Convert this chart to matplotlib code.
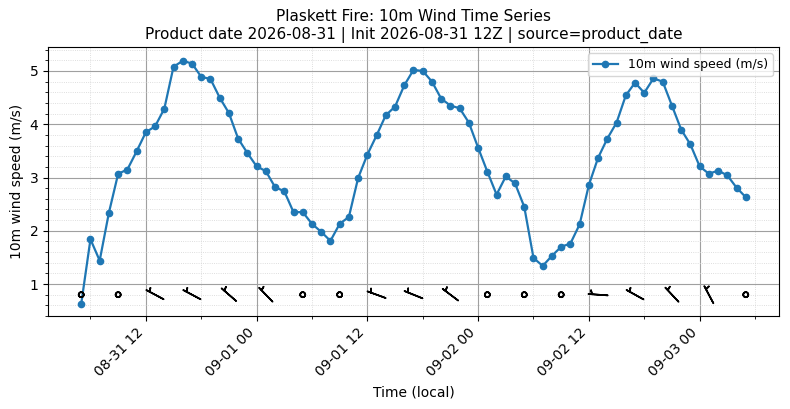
import numpy as np
import pandas as pd
import matplotlib
matplotlib.use('Agg')
import matplotlib.pyplot as plt
import matplotlib.dates as mdates
from matplotlib.ticker import AutoMinorLocator, MultipleLocator

# ---------------- data ----------------
start_time = '2026-08-31 05:00'
wind_speed = [0.63, 1.84, 1.44, 2.34, 3.07, 3.15, 3.49, 3.85, 3.96, 4.29,
              5.08, 5.19, 5.14, 4.89, 4.85, 4.50, 4.21, 3.73, 3.46, 3.21,
              3.12, 2.82, 2.74, 2.35, 2.35, 2.13, 1.98, 1.81, 2.13, 2.26,
              2.99, 3.43, 3.79, 4.17, 4.33, 4.73, 5.02, 5.00, 4.80, 4.48,
              4.35, 4.30, 4.03, 3.56, 3.11, 2.68, 3.02, 2.89, 2.45, 1.49,
              1.34, 1.53, 1.70, 1.76, 2.12, 2.86, 3.37, 3.73, 4.03, 4.54,
              4.78, 4.59, 4.86, 4.80, 4.35, 3.90, 3.62, 3.21, 3.07, 3.13,
              3.04, 2.81, 2.63]
# barbs every 4 hours (direction wind comes from, degrees; nan = calm)
barb_dir = [np.nan, np.nan, 298, 298, 311, 316, np.nan, np.nan, 290, 292,
            307, np.nan, np.nan, np.nan, 274, 299, 317, 332, np.nan]
barb_speed_kt = [0, 0, 5, 5, 5, 5, 0, 0, 5, 5, 5, 0, 0, 0, 5, 5, 5, 5, 0]

title = ('Plaskett Fire: 10m Wind Time Series\n'
         'Product date 2026-08-31 | Init 2026-08-31 12Z | source=product_date')

# ---------------- plot ----------------
times = pd.date_range(start_time, periods=len(wind_speed), freq='h')
barb_times = times[::4]

fig = plt.figure(figsize=(7.9, 4.09), dpi=100)
ax = fig.add_axes([48/790, 1-316/409, (779-48)/790, (316-47)/409])

ax.plot(times, wind_speed, marker='o', markersize=4.5, linewidth=1.6,
        color='#1f77b4', label='10m wind speed (m/s)', zorder=3)

d = np.deg2rad(np.nan_to_num(np.array(barb_dir, dtype=float)))
spd = np.array(barb_speed_kt, dtype=float)
u = -spd * np.sin(d)
v = -spd * np.cos(d)
barb_y = np.full(len(barb_times), 0.8)
ax.barbs(mdates.date2num(barb_times), barb_y, u, v, length=5.3,
         pivot='middle', linewidth=1.2, color='black', zorder=4,
         sizes=dict(emptybarb=0.13))

ax.set_ylim(0.4, 5.45)
ax.set_xlim(times[0] - pd.Timedelta(hours=3.6), times[-1] + pd.Timedelta(hours=3.6))

ax.xaxis.set_major_locator(mdates.HourLocator(byhour=[0, 12]))
ax.xaxis.set_major_formatter(mdates.DateFormatter('%m-%d %H'))
ax.xaxis.set_minor_locator(mdates.HourLocator(byhour=[0, 6, 12, 18]))
ax.yaxis.set_major_locator(MultipleLocator(1))
ax.yaxis.set_minor_locator(AutoMinorLocator(5))

ax.grid(which='major', color='#a0a0a0', linewidth=0.8)
ax.grid(which='minor', color='#d4d4d4', linestyle=':', linewidth=0.6)

for lbl in ax.get_xticklabels():
    lbl.set_rotation(45)
    lbl.set_ha('right')

ax.set_xlabel('Time (local)')
ax.set_ylabel('10m wind speed (m/s)')
ax.set_title(title, fontsize=11)
ax.legend(loc='upper right', fontsize=9)

fig.savefig('out.png', dpi=100)
